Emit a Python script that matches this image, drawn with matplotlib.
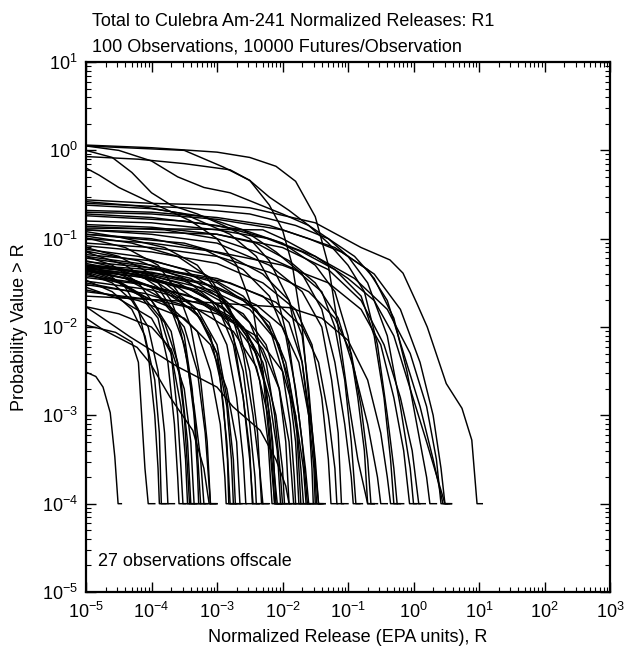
import matplotlib
matplotlib.use("Agg")
import matplotlib.pyplot as plt
import numpy as np

plt.rcParams['font.family'] = ['Liberation Sans', 'DejaVu Sans']
plt.rcParams['mathtext.fontset'] = 'custom'
plt.rcParams['mathtext.rm'] = 'Liberation Sans'

# CCDF curves, one per observation, as (log10 R, log10 P) breakpoints
top_curves = [
    [(-5, 0.06), (-4, 0.03), (-3, -0.02), (-2.5, -0.08), (-2.1, -0.18), (-1.8, -0.35), (-1.5, -0.75),
     (-1.3, -1.3), (-1.15, -2.0), (-1.0, -2.8), (-0.85, -3.5), (-0.7, -4.0), (-0.6, -4.0)],
    [(-5, 0.05), (-4.5, 0.0), (-4.0, -0.12), (-3.6, -0.3), (-3.2, -0.42), (-2.8, -0.48), (-2.4, -0.6),
     (-2.0, -0.72), (-1.6, -0.85), (-1.3, -1.0), (-1.0, -1.2), (-0.7, -1.5), (-0.4, -2.1), (-0.2, -2.9),
     (-0.05, -3.6), (0.0, -4.0), (0.1, -4.0)],
    [(-5, 0.0), (-4.6, -0.08), (-4.3, -0.25), (-4.0, -0.48), (-3.7, -0.62), (-3.3, -0.72), (-2.9, -0.85),
     (-2.5, -1.0), (-2.2, -1.25), (-1.9, -1.7), (-1.7, -2.4), (-1.55, -3.2), (-1.45, -4.0), (-1.35, -4.0)],
    [(-5, -0.2), (-4.8, -0.28), (-4.5, -0.42), (-4.1, -0.56), (-3.8, -0.66), (-3.4, -0.8), (-3.0, -1.0),
     (-2.7, -1.3), (-2.45, -1.8), (-2.3, -2.5), (-2.2, -3.3), (-2.12, -4.0), (-2.02, -4.0)],
    [(-5, 0.05), (-3.5, 0.0), (-2.9, -0.19), (-2.5, -0.34), (-2.2, -0.53), (-1.9, -0.68), (-1.6, -0.85),
     (-1.3, -1.05), (-1.0, -1.3), (-0.75, -1.6), (-0.55, -2.2), (-0.4, -3.0), (-0.3, -3.6), (-0.25, -4.0),
     (-0.15, -4.0)],
    [(-5, -0.07), (-4.2, -0.1), (-3.5, -0.15), (-2.8, -0.22), (-2.5, -0.34), (-2.2, -0.62), (-2.0, -0.9),
     (-1.85, -1.3), (-1.7, -2.0), (-1.6, -2.8), (-1.5, -3.5), (-1.45, -4.0), (-1.35, -4.0)],
]

high_curves = [
    [(-5, -0.56), (-4, -0.6), (-3, -0.62), (-2.5, -0.65), (-1.5, -0.82), (-0.8, -1.1), (-0.36, -1.24),
     (-0.16, -1.39), (0.05, -1.73), (0.21, -2.0), (0.5, -2.64), (0.74, -2.92), (0.89, -3.28), (0.97, -4.0),
     (1.05, -4.0)],
    [(-5, -0.6), (-3.5, -0.65), (-2.5, -0.72), (-1.8, -0.85), (-1.3, -1.0), (-0.9, -1.2), (-0.6, -1.45),
     (-0.3, -1.9), (-0.1, -2.5), (0.05, -3.1), (0.2, -3.7), (0.25, -4.0), (0.35, -4.0)],
    [(-5, -0.68), (-4, -0.7), (-3, -0.76), (-2.2, -0.85), (-1.6, -1.0), (-1.1, -1.15), (-0.7, -1.35),
     (-0.4, -1.7), (-0.15, -2.3), (0.1, -2.9), (0.3, -3.5), (0.45, -4.0), (0.55, -4.0)],
    [(-5, -0.72), (-4, -0.76), (-3, -0.85), (-2.3, -0.98), (-1.7, -1.15), (-1.2, -1.35), (-0.8, -1.65),
     (-0.6, -2.1), (-0.45, -2.8), (-0.35, -3.5), (-0.3, -4.0), (-0.2, -4.0)],
    [(-5, -0.74), (-3.5, -0.8), (-2.6, -0.9), (-2.0, -1.05), (-1.5, -1.3), (-1.2, -1.6), (-1.0, -2.1),
     (-0.85, -2.8), (-0.75, -3.4), (-0.7, -4.0), (-0.6, -4.0)],
    [(-5, -0.62), (-4, -0.66), (-3.2, -0.75), (-2.6, -0.9), (-2.1, -1.15), (-1.7, -1.4), (-1.4, -1.8),
     (-1.2, -2.4), (-1.05, -3.1), (-0.95, -3.7), (-0.92, -4.0), (-0.82, -4.0)],
    [(-5, -0.58), (-4.2, -0.63), (-3.5, -0.72), (-2.8, -0.95), (-2.4, -1.2), (-2.1, -1.6), (-1.9, -2.2),
     (-1.75, -3.0), (-1.65, -3.6), (-1.6, -4.0), (-1.5, -4.0)],
    [(-5, -0.8), (-4.0, -0.82), (-3.0, -0.9), (-2.2, -1.0), (-1.5, -1.2), (-0.9, -1.45), (-0.4, -1.8),
     (-0.05, -2.3), (0.2, -2.9), (0.35, -3.5), (0.42, -4.0), (0.52, -4.0)],
    [(-5, -0.84), (-4.0, -0.87), (-3.0, -0.95), (-2.0, -1.1), (-1.3, -1.35), (-0.8, -1.7), (-0.45, -2.2),
     (-0.2, -2.8), (-0.02, -3.4), (0.08, -4.0), (0.18, -4.0)],
    [(-5, -0.7), (-4.0, -0.72), (-3.0, -0.78), (-2.0, -0.9), (-1.2, -1.1), (-0.6, -1.4), (-0.2, -1.8),
     (0.1, -2.4), (0.3, -3.0), (0.42, -3.6), (0.48, -4.0), (0.58, -4.0)],
]

mid_curves = [
    [(-5, -0.88), (-2.3, -0.9), (-2.0, -1.0), (-1.5, -1.2), (-1.0, -1.45), (-0.6, -1.7), (-0.3, -2.1),
     (-0.05, -2.7), (0.2, -3.3), (0.4, -3.8), (0.48, -4.0), (0.58, -4.0)],
    [(-5, -0.9), (-3.0, -0.95), (-2.4, -1.05), (-1.9, -1.25), (-1.5, -1.5), (-1.15, -1.9), (-0.9, -2.5),
     (-0.7, -3.1), (-0.55, -3.7), (-0.5, -4.0), (-0.4, -4.0)],
    [(-5, -0.95), (-4, -1.0), (-3.2, -1.12), (-2.6, -1.35), (-2.2, -1.65), (-1.95, -2.1), (-1.8, -2.7),
     (-1.7, -3.3), (-1.62, -4.0), (-1.52, -4.0)],
    [(-5, -0.97), (-4.3, -1.05), (-3.6, -1.2), (-3.1, -1.45), (-2.8, -1.8), (-2.6, -2.3), (-2.45, -3.0),
     (-2.35, -3.6), (-2.3, -4.0), (-2.2, -4.0)],
    [(-5, -0.86), (-3.8, -0.9), (-3.0, -1.0), (-2.4, -1.15), (-1.8, -1.35), (-1.4, -1.6), (-1.2, -2.0),
     (-1.05, -2.6), (-0.95, -3.3), (-0.88, -4.0), (-0.78, -4.0)],
    [(-5, -0.92), (-4.5, -0.98), (-3.8, -1.1), (-3.3, -1.3), (-3.0, -1.6), (-2.75, -2.1), (-2.6, -2.8),
     (-2.5, -3.5), (-2.45, -4.0), (-2.35, -4.0)],
    [(-5, -0.99), (-4.4, -1.1), (-3.9, -1.3), (-3.6, -1.6), (-3.4, -2.0), (-3.25, -2.6), (-3.15, -3.3),
     (-3.1, -4.0), (-3.0, -4.0)],
    [(-5, -0.9), (-4, -0.95), (-3, -1.05), (-2.2, -1.3), (-1.7, -1.6), (-1.4, -2.0), (-1.25, -2.6),
     (-1.15, -3.2), (-1.1, -4.0), (-1.0, -4.0)],
    [(-5, -0.95), (-3.5, -1.05), (-2.8, -1.2), (-2.3, -1.4), (-1.9, -1.7), (-1.7, -2.1), (-1.6, -2.7),
     (-1.52, -3.4), (-1.48, -4.0), (-1.38, -4.0)],
    [(-5, -1.05), (-4.0, -1.1), (-3.0, -1.2), (-2.2, -1.38), (-1.6, -1.6), (-1.2, -1.9), (-0.95, -2.3),
     (-0.8, -2.9), (-0.7, -3.5), (-0.65, -4.0), (-0.55, -4.0)],
    [(-5, -1.0), (-4.0, -1.05), (-3.0, -1.15), (-2.0, -1.3), (-1.3, -1.5), (-0.8, -1.8), (-0.5, -2.2),
     (-0.3, -2.8), (-0.15, -3.4), (-0.06, -4.0), (0.04, -4.0)],
]

low_curves = [
    [(-5, -1.1), (-4.5, -1.2), (-4.0, -1.4), (-3.7, -1.7), (-3.5, -2.1), (-3.38, -2.7), (-3.3, -3.4),
     (-3.25, -4.0), (-3.15, -4.0)],
    [(-5, -1.12), (-4.2, -1.2), (-3.5, -1.35), (-3.0, -1.6), (-2.7, -1.95), (-2.5, -2.5), (-2.38, -3.2),
     (-2.32, -4.0), (-2.22, -4.0)],
    [(-5, -1.15), (-4.4, -1.3), (-3.9, -1.55), (-3.6, -1.9), (-3.45, -2.4), (-3.35, -3.0), (-3.3, -3.6),
     (-3.28, -4.0), (-3.18, -4.0)],
    [(-5, -1.18), (-4, -1.25), (-3.2, -1.4), (-2.6, -1.65), (-2.2, -2.0), (-2.0, -2.5), (-1.88, -3.1),
     (-1.82, -3.7), (-1.8, -4.0), (-1.7, -4.0)],
    [(-5, -1.2), (-4.6, -1.3), (-4.2, -1.5), (-3.9, -1.8), (-3.7, -2.3), (-3.6, -3.0), (-3.55, -3.6),
     (-3.52, -4.0), (-3.42, -4.0)],
    [(-5, -1.22), (-4.2, -1.3), (-3.4, -1.45), (-2.9, -1.7), (-2.55, -2.1), (-2.35, -2.6), (-2.22, -3.3),
     (-2.16, -4.0), (-2.06, -4.0)],
    [(-5, -1.08), (-4.0, -1.15), (-3.0, -1.28), (-2.3, -1.5), (-1.8, -1.8), (-1.55, -2.2), (-1.4, -2.8),
     (-1.3, -3.5), (-1.26, -4.0), (-1.16, -4.0)],
    [(-5, -1.25), (-4.4, -1.35), (-3.8, -1.5), (-3.3, -1.8), (-3.0, -2.2), (-2.85, -2.8), (-2.75, -3.5),
     (-2.72, -4.0), (-2.62, -4.0)],
    [(-5, -1.14), (-4.2, -1.25), (-3.5, -1.45), (-3.0, -1.75), (-2.75, -2.2), (-2.6, -2.8), (-2.5, -3.4),
     (-2.46, -4.0), (-2.36, -4.0)],
    [(-5, -1.2), (-4, -1.3), (-3.0, -1.5), (-2.4, -1.8), (-2.05, -2.2), (-1.9, -2.7), (-1.8, -3.3),
     (-1.75, -4.0), (-1.65, -4.0)],
    [(-5, -1.26), (-4.0, -1.33), (-3.0, -1.45), (-2.3, -1.65), (-1.9, -1.95), (-1.7, -2.4), (-1.6, -3.0),
     (-1.55, -3.6), (-1.53, -4.0), (-1.43, -4.0)],
    [(-5, -1.28), (-4.5, -1.35), (-3.9, -1.5), (-3.4, -1.75), (-3.1, -2.1), (-2.95, -2.6), (-2.85, -3.3),
     (-2.8, -4.0), (-2.7, -4.0)],
]

dense_curves = [
    [(-5, -1.3), (-4.7, -1.38), (-4.4, -1.55), (-4.2, -1.8), (-4.05, -2.3), (-3.95, -3.0), (-3.9, -3.6),
     (-3.88, -4.0), (-3.78, -4.0)],
    [(-5, -1.32), (-4.5, -1.4), (-4.0, -1.55), (-3.7, -1.8), (-3.5, -2.2), (-3.35, -2.9), (-3.25, -3.5),
     (-3.2, -4.0), (-3.1, -4.0)],
    [(-5, -1.35), (-4.6, -1.45), (-4.2, -1.62), (-3.9, -1.9), (-3.75, -2.4), (-3.65, -3.1), (-3.6, -3.7),
     (-3.58, -4.0), (-3.48, -4.0)],
    [(-5, -1.3), (-4.2, -1.38), (-3.6, -1.5), (-3.1, -1.7), (-2.8, -2.0), (-2.6, -2.5), (-2.5, -3.1),
     (-2.42, -3.7), (-2.4, -4.0), (-2.3, -4.0)],
    [(-5, -1.33), (-4.3, -1.4), (-3.6, -1.55), (-3.1, -1.8), (-2.85, -2.2), (-2.7, -2.8), (-2.6, -3.5),
     (-2.56, -4.0), (-2.46, -4.0)],
    [(-5, -1.36), (-4, -1.45), (-3.2, -1.6), (-2.6, -1.85), (-2.25, -2.2), (-2.05, -2.7), (-1.95, -3.3),
     (-1.9, -4.0), (-1.8, -4.0)],
    [(-5, -1.34), (-4.4, -1.45), (-3.9, -1.65), (-3.5, -2.0), (-3.3, -2.5), (-3.18, -3.2), (-3.12, -3.8),
     (-3.1, -4.0), (-3.0, -4.0)],
    [(-5, -1.31), (-4.0, -1.38), (-3.2, -1.5), (-2.6, -1.7), (-2.2, -1.95), (-1.95, -2.4), (-1.8, -3.0),
     (-1.72, -3.6), (-1.68, -4.0), (-1.58, -4.0)],
    [(-5, -1.38), (-4.5, -1.48), (-4.0, -1.7), (-3.7, -2.05), (-3.55, -2.6), (-3.45, -3.3), (-3.4, -4.0),
     (-3.3, -4.0)],
    [(-5, -1.3), (-4.3, -1.36), (-3.5, -1.48), (-2.9, -1.68), (-2.5, -1.95), (-2.25, -2.4), (-2.12, -3.0),
     (-2.04, -3.6), (-2.0, -4.0), (-1.9, -4.0)],
    [(-5, -1.37), (-4.4, -1.45), (-3.8, -1.6), (-3.3, -1.85), (-3.0, -2.3), (-2.85, -2.9), (-2.78, -3.5),
     (-2.75, -4.0), (-2.65, -4.0)],
    [(-5, -1.33), (-4.1, -1.42), (-3.3, -1.6), (-2.8, -1.85), (-2.45, -2.2), (-2.25, -2.7), (-2.15, -3.3),
     (-2.1, -4.0), (-2.0, -4.0)],
    [(-5, -1.35), (-4.2, -1.43), (-3.4, -1.58), (-2.9, -1.78), (-2.55, -2.05), (-2.3, -2.5), (-2.18, -3.1),
     (-2.12, -3.7), (-2.08, -4.0), (-1.98, -4.0)],
    [(-5, -1.32), (-3.9, -1.4), (-3.0, -1.55), (-2.4, -1.75), (-2.0, -2.0), (-1.75, -2.4), (-1.6, -3.0),
     (-1.52, -3.6), (-1.5, -4.0), (-1.4, -4.0)],
    [(-5, -1.39), (-4.6, -1.5), (-4.3, -1.7), (-4.05, -2.0), (-3.9, -2.5), (-3.8, -3.2), (-3.75, -4.0),
     (-3.65, -4.0)],
    [(-5, -1.36), (-4.3, -1.46), (-3.7, -1.62), (-3.25, -1.9), (-3.0, -2.3), (-2.9, -2.9), (-2.84, -3.5),
     (-2.82, -4.0), (-2.72, -4.0)],
    [(-5, -1.34), (-4.0, -1.42), (-3.1, -1.58), (-2.5, -1.8), (-2.1, -2.15), (-1.9, -2.6), (-1.78, -3.2),
     (-1.72, -4.0), (-1.62, -4.0)],
    [(-5, -1.3), (-3.8, -1.36), (-2.8, -1.5), (-2.1, -1.72), (-1.7, -2.0), (-1.45, -2.4), (-1.3, -3.0),
     (-1.2, -3.6), (-1.17, -4.0), (-1.07, -4.0)],
    [(-5, -1.4), (-4.5, -1.5), (-4.1, -1.68), (-3.8, -1.95), (-3.6, -2.4), (-3.5, -3.0), (-3.45, -3.6),
     (-3.42, -4.0), (-3.32, -4.0)],
    [(-5, -1.42), (-4.2, -1.5), (-3.4, -1.65), (-2.8, -1.9), (-2.4, -2.3), (-2.2, -2.8), (-2.08, -3.4),
     (-2.03, -4.0), (-1.93, -4.0)],
    [(-5, -1.44), (-4.1, -1.52), (-3.3, -1.68), (-2.7, -1.92), (-2.3, -2.25), (-2.05, -2.7), (-1.9, -3.3),
     (-1.83, -4.0), (-1.73, -4.0)],
]

bottom_curves = [
    [(-5, -1.47), (-4.6, -1.6), (-4.3, -1.8), (-4.1, -2.1), (-3.95, -2.6), (-3.88, -3.2), (-3.85, -4.0),
     (-3.75, -4.0)],
    [(-5, -1.5), (-4.3, -1.6), (-3.7, -1.78), (-3.3, -2.05), (-3.1, -2.5), (-2.95, -3.1), (-2.88, -3.7),
     (-2.86, -4.0), (-2.76, -4.0)],
    [(-5, -1.48), (-4.0, -1.58), (-3.2, -1.75), (-2.6, -2.0), (-2.3, -2.4), (-2.1, -3.0), (-2.0, -3.6),
     (-1.97, -4.0), (-1.87, -4.0)],
    [(-5, -1.55), (-4.5, -1.68), (-4.0, -1.9), (-3.7, -2.3), (-3.55, -2.9), (-3.48, -3.5), (-3.45, -4.0),
     (-3.35, -4.0)],
    [(-5, -1.52), (-4.1, -1.62), (-3.3, -1.8), (-2.75, -2.05), (-2.4, -2.45), (-2.22, -3.0), (-2.15, -3.6),
     (-2.12, -4.0), (-2.02, -4.0)],
    [(-5, -1.58), (-4.2, -1.7), (-3.5, -1.9), (-3.1, -2.2), (-2.85, -2.7), (-2.7, -3.3), (-2.65, -4.0),
     (-2.55, -4.0)],
    [(-5, -1.6), (-3.9, -1.7), (-3.0, -1.85), (-2.4, -2.1), (-2.0, -2.5), (-1.8, -3.0), (-1.68, -3.6),
     (-1.64, -4.0), (-1.54, -4.0)],
    [(-5, -1.65), (-3.2, -1.72), (-1.9, -1.78), (-1.4, -1.9), (-1.0, -2.15), (-0.7, -2.6), (-0.5, -3.2),
     (-0.4, -3.7), (-0.35, -4.0), (-0.25, -4.0)],
    [(-5, -1.77), (-4.5, -1.85), (-4.0, -2.0), (-3.7, -2.25), (-3.5, -2.7), (-3.4, -3.3), (-3.35, -4.0),
     (-3.25, -4.0)],
    [(-5, -1.98), (-4.55, -2.06), (-4.3, -2.17), (-4.2, -2.4), (-4.15, -3.0), (-4.1, -3.6), (-4.05, -4.0),
     (-3.95, -4.0)],
    [(-5, -1.77), (-4.33, -2.11), (-3.6, -2.45), (-3.0, -2.68), (-2.76, -2.9), (-2.34, -3.17), (-2.1, -3.5),
     (-1.95, -3.8), (-1.9, -4.0), (-1.8, -4.0)],
    [(-5, -1.9), (-4.74, -2.03), (-4.22, -2.23), (-4.02, -2.41), (-3.72, -2.79), (-3.37, -3.17),
     (-3.2, -3.6), (-3.12, -4.0), (-3.02, -4.0)],
    [(-5, -2.51), (-4.85, -2.56), (-4.74, -2.68), (-4.63, -2.97), (-4.56, -3.47), (-4.51, -4.0),
     (-4.46, -4.0)],
]

curves = top_curves + high_curves + mid_curves + low_curves + dense_curves + bottom_curves

x_decades = np.arange(-5, 4)
y_decades = np.arange(-5, 2)

fig = plt.figure(figsize=(6.25, 6.6), dpi=100)
ax = fig.add_axes([0.1376, 0.103, 0.8384, 0.803])

for pts in curves:
    pts = np.array(pts)
    ax.plot(10 ** pts[:, 0], 10 ** pts[:, 1], color='black', lw=1.05)

ax.set_xscale('log')
ax.set_yscale('log')
ax.set_xlim(1e-5, 1e3)
ax.set_ylim(1e-5, 1e1)

# decade ticks with labels, 2..9 minor ticks inside each decade
ax.set_xticks(10.0 ** x_decades, [r'$10^{%d}$' % d for d in x_decades])
ax.set_yticks(10.0 ** y_decades, [r'$10^{%d}$' % d for d in y_decades])
x_minor = [m * 10.0 ** d for d in x_decades[:-1] for m in range(2, 10)]
y_minor = [m * 10.0 ** d for d in y_decades[:-1] for m in range(2, 10)]
ax.set_xticks(x_minor, minor=True)
ax.set_yticks(y_minor, minor=True)
ax.xaxis.set_minor_formatter(matplotlib.ticker.NullFormatter())
ax.yaxis.set_minor_formatter(matplotlib.ticker.NullFormatter())

ax.tick_params(which='both', direction='in', top=True, right=True, labelsize=13)
ax.tick_params(which='major', length=7, width=1.0)
ax.tick_params(which='minor', length=3.5, width=0.8)
ax.tick_params(axis='x', which='major', pad=7)
ax.tick_params(axis='y', which='major', pad=6)
for s in ax.spines.values():
    s.set_linewidth(1.6)

ax.set_xlabel('Normalized Release (EPA units), R', fontsize=13, labelpad=5)
ax.set_ylabel('Probability Value > R', fontsize=13, labelpad=10)
ax.text(1.5e-5, 2.2e-5, '27 observations offscale', fontsize=13, va='center')

fig.text(0.147, 0.967, 'Total to Culebra Am-241 Normalized Releases: R1', fontsize=13, va='center')
fig.text(0.147, 0.929, '100 Observations, 10000 Futures/Observation', fontsize=13, va='center')

fig.savefig('out.png', dpi=100)
